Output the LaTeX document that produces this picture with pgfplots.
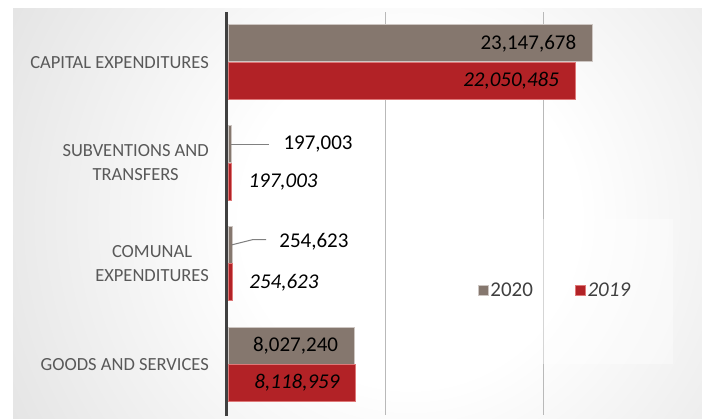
\documentclass[border=0pt]{standalone}
\usepackage{pgfplots}
\pgfplotsset{compat=1.18}
\usepackage{pgfplotstable}
\usepackage{fontspec}
\setmainfont{Carlito}
\definecolor{taupe}{RGB}{133,119,110}
\definecolor{taupeedge}{RGB}{205,198,194}
\definecolor{brick}{RGB}{178,34,38}
\definecolor{brickedge}{RGB}{222,120,120}
\definecolor{axiscol}{RGB}{64,64,64}
\definecolor{cattext}{RGB}{89,89,89}
\definecolor{legtext}{RGB}{64,64,64}
\definecolor{gridgray}{RGB}{185,185,185}
\definecolor{bggray}{RGB}{192,192,192}
\definecolor{leadergray}{RGB}{128,128,128}
\pgfdeclareradialshading{bgshade}{\pgfpoint{0bp}{0bp}}{color(0bp)=(white); color(10bp)=(white); color(50bp)=(bggray)}

\pgfplotstableread{
x y label
23147678 3 23,147,678
8027240 0 8,027,240
}\tAbig
\pgfplotstableread{
x y label
197003 2 197,003
}\tAsub
\pgfplotstableread{
x y label
254623 1 254,623
}\tAcom
\pgfplotstableread{
x y label
22050485 3 22,050,485
8118959 0 8,118,959
}\tBbig
\pgfplotstableread{
x y label
197003 2 197,003
254623 1 254,623
}\tBsmall

\begin{document}
\begin{tikzpicture}
\path[use as bounding box] (0pt,0pt) rectangle (702pt,418pt);
\fill[white] (0pt,0pt) rectangle (702pt,418pt);
\begin{scope}
\clip (13pt,0pt) rectangle (702pt,409pt);
\shade[shading=bgshade] (-10pt,-220pt) rectangle (830pt,620pt);
\end{scope}
\begin{axis}[
  at={(228pt,3.3pt)}, anchor=south west,
  width=472.5pt, height=403pt, scale only axis,
  xmin=0, xmax=30000000, ymin=-0.5, ymax=3.5,
  xtick={10000000,20000000}, xticklabels={},
  xmajorgrids, major grid style={draw=gridgray, line width=0.9pt},
  ytick={0,1,2,3},
  yticklabels={GOODS AND SERVICES,{COMUNAL\\EXPENDITURES},{SUBVENTIONS AND\\TRANSFERS},CAPITAL EXPENDITURES},
  yticklabel style={align=center, font=\fontsize{18.5}{24}\selectfont, text=cattext, anchor=east, inner sep=0pt, xshift=-19pt},
  major tick length=0pt,
  axis line style={draw=none},
  clip=false,
  point meta=explicit symbolic,
  legend columns=2,
  legend style={at={(0.692,0.309)}, anchor=center, draw=none, fill=none,
    font=\fontsize{21}{24}\selectfont, text=legtext,
    /tikz/every even column/.append style={column sep=40pt}},
]
\addplot[xbar, bar width=37pt, bar shift=18.75pt, fill=taupe, draw=taupeedge, line width=0.8pt,
  nodes near coords={\pgfplotspointmeta},
  every node near coord/.append style={anchor=east, xshift=-16pt, yshift=18.75pt, inner sep=0pt, text=black, font=\fontsize{21}{24}\selectfont},
  legend image code/.code={\draw[fill=taupe, draw=taupeedge, line width=0.6pt] (0pt,-5pt) rectangle (10pt,5pt);}]
  table[x=x, y=y, meta=label]{\tAbig};
\addlegendentry{2020}
\addplot[xbar, bar width=37pt, bar shift=-18.75pt, fill=brick, draw=brickedge, line width=0.8pt,
  nodes near coords={\pgfplotspointmeta},
  every node near coord/.append style={anchor=east, xshift=-16pt, yshift=-18.75pt, inner sep=0pt, text=black, font=\itshape\fontsize{21}{24}\selectfont},
  legend image code/.code={\draw[fill=brick, draw=brickedge, line width=0.6pt] (0pt,-5pt) rectangle (10pt,5pt);}]
  table[x=x, y=y, meta=label]{\tBbig};
\addlegendentry{\itshape 2019}
\addplot[forget plot, xbar, bar width=37pt, bar shift=18.75pt, fill=taupe, draw=taupeedge, line width=0.8pt,
  nodes near coords={\pgfplotspointmeta},
  every node near coord/.append style={anchor=west, xshift=52pt, yshift=18.75pt, inner sep=0pt, text=black, font=\fontsize{21}{24}\selectfont}]
  table[x=x, y=y, meta=label]{\tAsub};
\addplot[forget plot, xbar, bar width=37pt, bar shift=18.75pt, fill=taupe, draw=taupeedge, line width=0.8pt,
  nodes near coords={\pgfplotspointmeta},
  every node near coord/.append style={anchor=west, xshift=47pt, yshift=21.75pt, inner sep=0pt, text=black, font=\fontsize{21}{24}\selectfont}]
  table[x=x, y=y, meta=label]{\tAcom};
\addplot[forget plot, xbar, bar width=37pt, bar shift=-18.75pt, fill=brick, draw=brickedge, line width=0.8pt,
  nodes near coords={\pgfplotspointmeta},
  every node near coord/.append style={anchor=west, xshift=17pt, yshift=-18.75pt, inner sep=0pt, text=black, font=\itshape\fontsize{21}{24}\selectfont}]
  table[x=x, y=y, meta=label]{\tBsmall};
% leader lines
\draw[leadergray, line width=1pt] ([yshift=18.75pt]axis cs:197003,2) -- ([yshift=18.75pt]axis cs:2603000,2);
\draw[leadergray, line width=1pt] ([yshift=18.75pt]axis cs:254623,1) -- ([yshift=24pt]axis cs:1587000,1) -- ([yshift=24pt]axis cs:2413000,1);
% axis line
\draw[axiscol, line width=3.5pt] ([xshift=-1.3pt, yshift=-1.5pt]rel axis cs:0,0) -- ([xshift=-1.3pt]rel axis cs:0,1);
% legend panel
\fill[white, fill opacity=0.4] (rel axis cs:0.423,0.126) rectangle (rel axis cs:0.942,0.486);
\end{axis}
\end{tikzpicture}
\end{document}
